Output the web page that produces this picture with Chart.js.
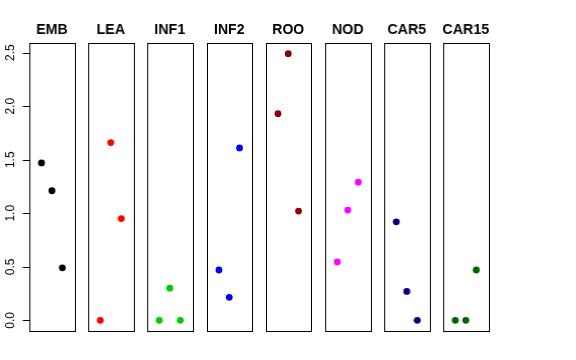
<!DOCTYPE html>
<html>
<head>
<meta charset="utf-8">
<script src="https://cdn.jsdelivr.net/npm/chart.js@4.4.1/dist/chart.umd.min.js"></script>
<style>
  body { margin: 0; background: #fff; }
  #wrap { position: relative; width: 576px; height: 360px; }
  .panel { position: absolute; top: 0; height: 360px; }
</style>
</head>
<body>
<div id="wrap"></div>
<script>
// tissues and values (3 points per panel)
const groups = ['EMB', 'LEA', 'INF1', 'INF2', 'ROO', 'NOD', 'CAR5', 'CAR15'];
const colors = ['#000000', '#FF0000', '#00CD00', '#0000FF', '#8B0000', '#FF00FF', '#000080', '#006400'];
const EMB   = [1.47, 1.21, 0.49];
const LEA   = [0.00, 1.66, 0.95];
const INF1  = [0.00, 0.30, 0.00];
const INF2  = [0.47, 0.215, 1.61];
const ROO   = [1.93, 2.49, 1.02];
const NOD   = [0.545, 1.03, 1.29];
const CAR5  = [0.92, 0.27, 0.00];
const CAR15 = [0.00, 0.00, 0.47];
const values = [EMB, LEA, INF1, INF2, ROO, NOD, CAR5, CAR15];
const yTicks = [0, 0.5, 1, 1.5, 2, 2.5];
const yTickLabels = ['0.0', '0.5', '1.0', '1.5', '2.0', '2.5'];

// shared y range like R (data range + 4%)
const yMin = -0.0996, yMax = 2.59;

const panelLeft0 = 29, panelStep = 59.2, panelW = 44.5;
const plotTop = 43, plotBottom = 331;
const wrap = document.getElementById('wrap');

const panelPlugin = {
  id: 'panelDeco',
  afterDraw(chart, args, opts) {
    const ctx = chart.ctx, a = chart.chartArea;
    ctx.save();
    ctx.strokeStyle = '#000';
    ctx.lineWidth = 1;
    ctx.strokeRect(Math.round(a.left) + 0.5, Math.round(a.top) + 0.5,
                   Math.round(a.right - a.left), Math.round(a.bottom - a.top));
    ctx.fillStyle = '#000';
    ctx.font = 'bold 14px "Liberation Sans", Arial, sans-serif';
    ctx.textAlign = 'center';
    ctx.textBaseline = 'alphabetic';
    ctx.fillText(opts.title, (a.left + a.right) / 2, 34);
    if (opts.axis) {
      const y = chart.scales.y;
      const x0 = Math.round(a.left) + 0.5;
      ctx.beginPath();
      ctx.moveTo(x0, Math.round(y.getPixelForValue(yTicks[0])) + 0.5);
      ctx.lineTo(x0, Math.round(y.getPixelForValue(yTicks[yTicks.length - 1])) + 0.5);
      yTicks.forEach(t => {
        const py = Math.round(y.getPixelForValue(t)) + 0.5;
        ctx.moveTo(x0, py);
        ctx.lineTo(x0 - 7, py);
      });
      ctx.stroke();
      ctx.font = '12px "Liberation Sans", Arial, sans-serif';
      ctx.textBaseline = 'middle';
      yTicks.forEach((t, i) => {
        const py = y.getPixelForValue(t);
        ctx.save();
        ctx.translate(10.5, py);
        ctx.rotate(-Math.PI / 2);
        ctx.fillText(yTickLabels[i], 0, 0);
        ctx.restore();
      });
    }
    ctx.restore();
  }
};

groups.forEach((g, i) => {
  const left = panelLeft0 + panelStep * i;
  const padL = i === 0 ? 29 : 8, padR = 8;
  const div = document.createElement('div');
  div.className = 'panel';
  div.style.left = (left - padL) + 'px';
  div.style.width = (panelW + padL + padR) + 'px';
  const cv = document.createElement('canvas');
  div.appendChild(cv);
  wrap.appendChild(div);

  new Chart(cv, {
    type: 'scatter',
    data: {
      datasets: [{
        data: values[i].map((v, k) => ({ x: k + 1, y: v })),
        backgroundColor: colors[i],
        borderWidth: 0,
        pointRadius: 3.4
      }]
    },
    options: {
      responsive: true,
      maintainAspectRatio: false,
      animation: false,
      layout: { padding: { left: padL, right: padR, top: plotTop, bottom: 360 - plotBottom } },
      scales: {
        x: { type: 'linear', min: -0.16, max: 4.16, display: false },
        y: { type: 'linear', min: yMin, max: yMax, display: false }
      },
      plugins: {
        legend: { display: false },
        tooltip: { enabled: false },
        panelDeco: { title: g, axis: i === 0 }
      }
    },
    plugins: [panelPlugin]
  });
});
</script>
</body>
</html>
